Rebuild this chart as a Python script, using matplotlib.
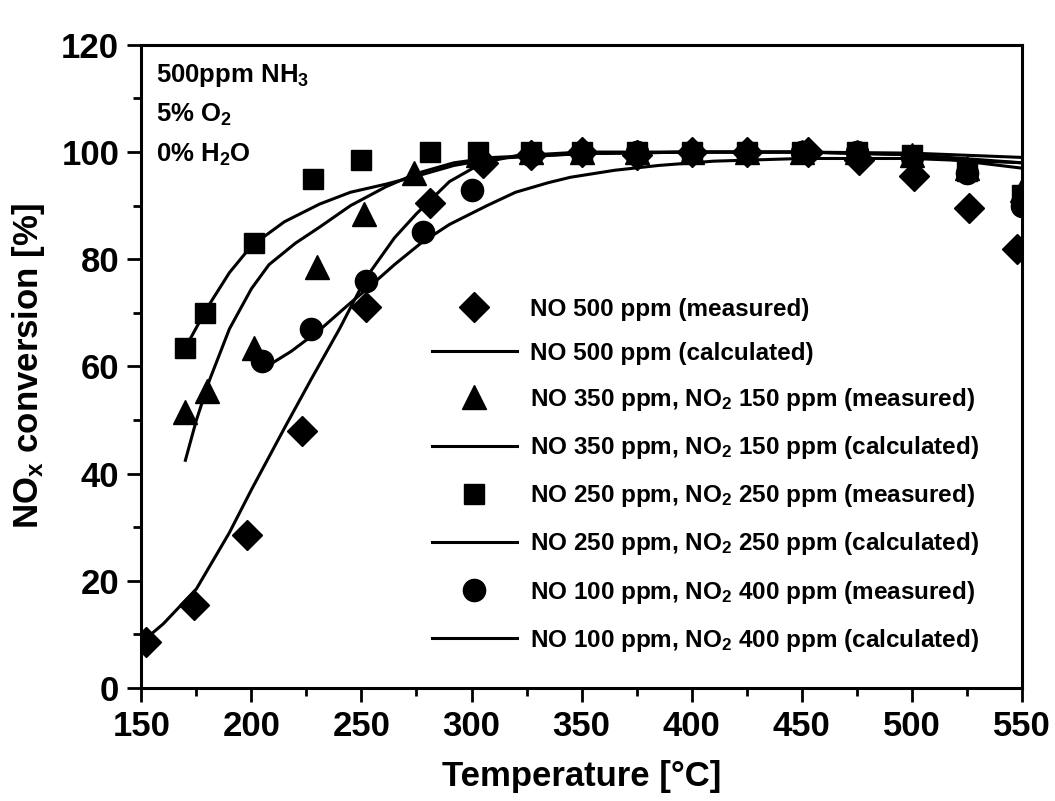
import matplotlib
matplotlib.use("Agg")
from matplotlib import pyplot as plt

plt.rcParams['font.family'] = ['Liberation Sans', 'DejaVu Sans']
plt.rcParams['font.weight'] = 'bold'
plt.rcParams['mathtext.fontset'] = 'custom'
plt.rcParams['mathtext.rm'] = 'Liberation Sans:bold'
plt.rcParams['mathtext.it'] = 'Liberation Sans:bold'
plt.rcParams['mathtext.bf'] = 'Liberation Sans:bold'
plt.rcParams['mathtext.default'] = 'rm'

# %% measured points
t_no500 = [152, 174, 198, 223, 252, 281, 305, 327, 350, 375, 400, 425, 453, 476, 501, 526, 548]
y_no500 = [8.5, 15.5, 28.5, 48, 71, 90.5, 98, 99.5, 100, 99.5, 100, 100, 100, 98.5, 95.5, 89.5, 82]

t_no350 = [170, 180, 201, 230, 251, 274, 303, 327, 350, 375, 400, 425, 450, 475, 500, 525, 550]
y_no350 = [51.5, 55.5, 63.5, 78.5, 88.5, 96, 99.5, 100, 100, 100, 100, 100, 100, 100, 99.5, 97, 93]

t_no250 = [170, 179, 201, 228, 250, 281, 303, 327, 350, 375, 400, 425, 450, 475, 500, 525, 550]
y_no250 = [63.5, 70, 83, 95, 98.5, 100, 100, 100, 100, 100, 100, 100, 100, 100, 99.5, 96.5, 92]

t_no100 = [205, 227, 252, 278, 300, 327, 350, 375, 400, 425, 450, 475, 500, 525, 550]
y_no100 = [61, 67, 76, 85, 93, 99.5, 100, 100, 100, 100, 100, 100, 99, 96, 90]

# %% calculated curves
tc_no500 = [150, 160, 175, 190, 200, 215, 227, 240, 252, 265, 275, 290, 305, 320, 350, 400, 450, 500, 550]
yc_no500 = [8.5, 12, 18.5, 29, 37, 48.5, 57.5, 67, 76.5, 84, 88.5, 94.5, 98, 99.3, 100, 100, 100, 99.5, 98]

tc_no350 = [170, 175, 181, 190, 200, 208, 220, 231, 245, 261, 275, 292, 310, 350, 400, 450, 500, 550]
yc_no350 = [42.5, 50, 57.5, 67, 74.5, 79, 83, 86, 90, 93.5, 96, 98, 99, 99.7, 100, 100, 99.8, 99]

tc_no250 = [170, 180, 190, 200, 215, 231, 245, 261, 275, 292, 310, 350, 400, 450, 500, 550]
yc_no250 = [63.5, 71, 77.5, 82.5, 87, 90.3, 92.5, 94, 95.5, 97.5, 98.8, 99.7, 100, 100, 99.5, 97]

tc_no100 = [207, 218, 231, 244, 254, 265, 277, 290, 307, 320, 335, 345, 365, 385, 410, 450, 500, 550]
yc_no100 = [60, 62.8, 66.8, 71.5, 75, 79, 83, 86.5, 90, 92.5, 94.3, 95.3, 96.6, 97.5, 98.3, 98.8, 98.8, 98]

labels = [
    'NO 500 ppm (measured)',
    'NO 500 ppm (calculated)',
    'NO 350 ppm, NO$_2$ 150 ppm (measured)',
    'NO 350 ppm, NO$_2$ 150 ppm (calculated)',
    'NO 250 ppm, NO$_2$ 250 ppm (measured)',
    'NO 250 ppm, NO$_2$ 250 ppm (calculated)',
    'NO 100 ppm, NO$_2$ 400 ppm (measured)',
    'NO 100 ppm, NO$_2$ 400 ppm (calculated)',
]

# %%
fig = plt.figure(figsize=(10.55, 8.01), dpi=100)
ax = fig.add_axes([0.134, 0.141, 0.8345, 0.803])

lw = 2.2
ax.plot(t_no500, y_no500, 'kD', ms=15, ls='none', label=labels[0])
ax.plot(tc_no500, yc_no500, 'k-', lw=lw, label=labels[1])
ax.plot(t_no350, y_no350, 'k^', ms=17, ls='none', label=labels[2])
ax.plot(tc_no350, yc_no350, 'k-', lw=lw, label=labels[3])
ax.plot(t_no250, y_no250, 'ks', ms=14, ls='none', label=labels[4])
ax.plot(tc_no250, yc_no250, 'k-', lw=lw, label=labels[5])
ax.plot(t_no100, y_no100, 'ko', ms=16, ls='none', label=labels[6])
ax.plot(tc_no100, yc_no100, 'k-', lw=lw, label=labels[7])

ax.set_xlim(150, 550)
ax.set_ylim(0, 120)
ax.set_xticks(range(150, 551, 50))
ax.set_xticks(range(175, 551, 50), minor=True)
ax.set_yticks(range(0, 121, 20))
ax.set_yticks(range(10, 120, 20), minor=True)
ax.tick_params(which='major', direction='out', length=10, width=2,
               labelsize=25, pad=6, top=False, right=False)
ax.tick_params(which='minor', direction='out', length=5.5, width=2,
               top=False, right=False)
for sp in ax.spines.values():
    sp.set_linewidth(2.2)

ax.set_xlabel('Temperature [°C]', fontsize=25, fontweight='bold', labelpad=12)
ax.set_ylabel('NO$_x$ conversion [%]', fontsize=25, fontweight='bold', labelpad=10)

ax.text(0.017, 0.943, '500ppm NH$_3$', transform=ax.transAxes, fontsize=18.5)
ax.text(0.017, 0.880, '5% O$_2$', transform=ax.transAxes, fontsize=18.5)
ax.text(0.017, 0.818, '0% H$_2$O', transform=ax.transAxes, fontsize=18.5)

leg = ax.legend(loc='upper left', bbox_to_anchor=(0.33, 0.607), frameon=False,
                fontsize=17.5, handlelength=3.5, handletextpad=0.53,
                labelspacing=0.87, borderpad=0, borderaxespad=0, markerscale=1.0)

fig.savefig('out.png', dpi=100)
